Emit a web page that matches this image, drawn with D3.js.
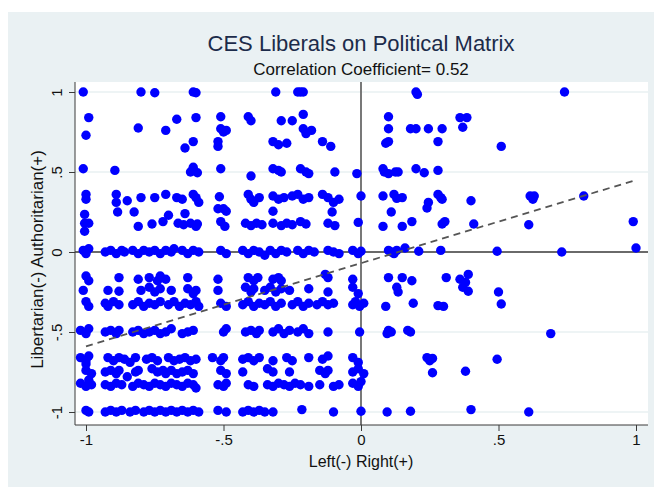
<!DOCTYPE html>
<html>
<head>
<meta charset="utf-8">
<script src="https://cdn.jsdelivr.net/npm/d3@7/dist/d3.min.js"></script>
<style>
  html, body { margin: 0; padding: 0; background: #ffffff; }
  svg { display: block; }
  text { font-family: "Liberation Sans", Arial, Helvetica, sans-serif; }
</style>
</head>
<body>
<svg id="chart" width="654" height="487"></svg>
<script>
// ---------------- DATA ----------------
const titleText = "CES Liberals on Political Matrix";
const subtitleText = "Correlation Coefficient= 0.52";
const xTitle = "Left(-) Right(+)";
const yTitle = "Libertarian(-) Authoritarian(+)";
const xTicks = [-1, -0.5, 0, 0.5, 1];
const yTicks = [-1, -0.5, 0, 0.5, 1];
const gridY = [-1, -0.5, 0.5, 1];
const fitX = [-1, 1];
const fitY = [-0.59, 0.45];

const rowP100 = [[-1.01,1.0],[-0.80,1.0],[-0.75,0.995],[-0.61,1.0],[-0.60,0.995],[-0.31,1.0],[-0.23,1.0],[-0.22,1.0],[-0.21,1.0],[0.20,1.0],[0.205,0.985],[0.74,1.0]];
const rowP75 = [[-0.99,0.84],[-1.0,0.73],[-0.81,0.775],[-0.71,0.76],[-0.67,0.83],[-0.60,0.84],[-0.61,0.69],[-0.64,0.65],
  [-0.51,0.845],[-0.41,0.845],[-0.40,0.82],[-0.29,0.82],[-0.25,0.82],[-0.21,0.86],
  [-0.51,0.77],[-0.50,0.75],[-0.49,0.76],[-0.21,0.77],[-0.20,0.74],[-0.18,0.76],
  [-0.52,0.69],[-0.52,0.66],[-0.32,0.69],[-0.30,0.67],[-0.27,0.68],[-0.14,0.69],[-0.11,0.66],
  [0.10,0.845],[0.36,0.84],[0.385,0.84],[0.10,0.77],[0.18,0.77],[0.20,0.77],[0.245,0.77],[0.295,0.77],[0.37,0.78],
  [0.09,0.68],[0.10,0.69],[0.28,0.69],[0.51,0.66]];
const rowP50 = [[-1.01,0.52],[-0.895,0.51],[-0.61,0.53],[-0.62,0.50],[-0.595,0.495],[-0.51,0.52],[-0.40,0.475],
  [-0.32,0.52],[-0.30,0.51],[-0.29,0.50],[-0.22,0.52],[-0.20,0.50],[-0.19,0.49],[-0.095,0.50],[-0.015,0.49],
  [0.08,0.52],[0.085,0.50],[0.10,0.49],[0.125,0.50],[0.135,0.50],[0.20,0.52],[0.23,0.495],[0.28,0.51]];
const rowP33 = [[-1.0,0.36],[-1.0,0.33],[-0.89,0.36],[-0.89,0.31],[-0.85,0.32],[-0.80,0.34],[-0.75,0.34],[-0.71,0.36],
  [-0.67,0.34],[-0.65,0.33],[-0.61,0.36],[-0.60,0.34],[-0.59,0.31],[-0.515,0.345],
  [-0.41,0.36],[-0.40,0.33],[-0.39,0.31],[-0.37,0.34],[-0.32,0.35],[-0.30,0.33],[-0.28,0.34],[-0.25,0.35],[-0.23,0.36],
  [-0.21,0.33],[-0.19,0.34],[-0.14,0.36],[-0.12,0.34],[-0.10,0.31],[-0.08,0.33],
  [0.0,0.35],[0.08,0.35],[0.12,0.36],[0.13,0.335],[0.15,0.34],[0.28,0.36],[0.29,0.34],[0.295,0.33],[0.40,0.32],
  [0.615,0.35],[0.625,0.33],[0.63,0.35],[0.81,0.35]];
const rowP25 = [[-0.885,0.25],[-0.825,0.25],[-0.70,0.23],[-0.64,0.24],[-0.52,0.27],[-0.50,0.27],[-0.49,0.255],
  [-0.32,0.255],[-0.105,0.25],[0.245,0.31],[0.24,0.275],[0.11,0.25]];
const rowP17 = [[-1.005,0.235],[-1.005,0.18],[-1.005,0.13],[-0.99,0.18],[-0.81,0.16],[-0.76,0.175],[-0.72,0.19],
  [-0.665,0.18],[-0.645,0.17],[-0.62,0.18],[-0.60,0.16],[-0.595,0.175],
  [-0.51,0.19],[-0.495,0.16],[-0.42,0.18],[-0.40,0.165],[-0.38,0.18],[-0.36,0.17],[-0.32,0.18],[-0.29,0.165],
  [-0.27,0.18],[-0.25,0.17],[-0.22,0.19],[-0.20,0.175],[-0.12,0.18],[-0.095,0.165],[-0.01,0.185],
  [0.08,0.16],[0.15,0.16],[0.185,0.19],[0.295,0.175],[0.305,0.19],[0.41,0.175],[0.61,0.17],[0.99,0.19]];
const rowZero = [[-1.01,0.01],[-1.0,-0.01],[-0.99,0.02],[-0.93,0.0],[-0.91,0.01],[-0.89,-0.01],[-0.87,0.01],[-0.86,0.0],
  [-0.83,0.01],[-0.81,-0.01],[-0.79,0.01],[-0.77,0.0],[-0.75,0.01],[-0.73,-0.01],[-0.71,0.01],[-0.69,0.0],[-0.68,0.02],
  [-0.65,0.01],[-0.63,-0.01],[-0.61,0.01],[-0.59,0.0],
  [-0.51,0.01],[-0.49,-0.01],[-0.43,0.01],[-0.41,-0.01],[-0.39,0.01],[-0.37,0.0],[-0.35,-0.02],[-0.33,0.01],
  [-0.31,-0.01],[-0.29,0.01],[-0.27,0.0],[-0.23,0.01],[-0.21,-0.01],[-0.19,0.01],[-0.17,0.0],[-0.12,0.01],
  [-0.10,0.0],[-0.08,-0.01],[-0.03,0.01],[-0.01,-0.01],[0.0,0.005],
  [0.10,0.01],[0.11,0.0],[0.13,0.01],[0.16,0.025],[0.12,-0.01],[0.21,0.005],[0.29,0.01],[0.495,0.005],[0.73,0.0],[1.0,0.025]];
const rowM17 = [[-1.0,-0.15],[-0.99,-0.18],[-0.88,-0.16],[-0.81,-0.17],[-0.77,-0.16],[-0.74,-0.18],[-0.73,-0.15],
  [-0.71,-0.17],[-0.63,-0.16],
  [-0.52,-0.17],[-0.41,-0.16],[-0.39,-0.18],[-0.375,-0.16],[-0.32,-0.17],[-0.30,-0.16],[-0.29,-0.18],[-0.13,-0.14],
  [-0.12,-0.16],[-0.03,-0.17],
  [0.10,-0.16],[0.15,-0.16],[0.185,-0.18],[0.31,-0.16],[0.36,-0.17],[0.38,-0.19],[0.39,-0.14]];
const rowM25 = [[-1.01,-0.24],[-0.92,-0.24],[-0.88,-0.245],[-0.80,-0.24],[-0.77,-0.22],[-0.75,-0.25],[-0.73,-0.23],
  [-0.69,-0.24],[-0.63,-0.23],[-0.61,-0.26],[-0.60,-0.24],
  [-0.52,-0.24],[-0.42,-0.22],[-0.40,-0.25],[-0.39,-0.23],[-0.35,-0.24],[-0.33,-0.22],[-0.31,-0.25],[-0.29,-0.23],
  [-0.26,-0.24],[-0.19,-0.23],[-0.12,-0.25],[-0.03,-0.22],[-0.01,-0.26],
  [0.13,-0.22],[0.135,-0.25],[0.37,-0.22],[0.39,-0.245],[0.50,-0.25]];
const rowM33 = [[-1.0,-0.31],[-0.99,-0.34],[-0.93,-0.32],[-0.92,-0.34],[-0.90,-0.31],[-0.88,-0.33],[-0.83,-0.33],
  [-0.81,-0.31],[-0.79,-0.34],[-0.77,-0.32],[-0.75,-0.33],[-0.73,-0.31],[-0.70,-0.33],[-0.68,-0.31],[-0.66,-0.34],
  [-0.64,-0.32],[-0.62,-0.33],[-0.60,-0.31],[-0.59,-0.34],
  [-0.51,-0.32],[-0.49,-0.34],[-0.43,-0.33],[-0.41,-0.31],[-0.39,-0.34],[-0.37,-0.32],[-0.35,-0.33],[-0.33,-0.31],
  [-0.31,-0.34],[-0.29,-0.32],[-0.25,-0.33],[-0.23,-0.31],[-0.21,-0.34],[-0.19,-0.32],[-0.16,-0.33],[-0.14,-0.31],
  [-0.12,-0.33],[-0.10,-0.32],[-0.03,-0.33],[-0.02,-0.31],[-0.005,-0.34],[0.01,-0.32],
  [0.09,-0.34],[0.19,-0.32],[0.28,-0.335],[0.30,-0.34],[0.51,-0.325]];
const rowM50 = [[-1.02,-0.49],[-1.0,-0.51],[-0.99,-0.48],[-0.93,-0.50],[-0.91,-0.49],[-0.89,-0.51],[-0.88,-0.49],
  [-0.83,-0.50],[-0.81,-0.49],[-0.79,-0.51],[-0.77,-0.50],[-0.75,-0.49],[-0.73,-0.51],[-0.71,-0.50],[-0.69,-0.48],
  [-0.65,-0.51],[-0.63,-0.50],[-0.61,-0.49],
  [-0.50,-0.50],[-0.49,-0.48],[-0.42,-0.50],[-0.40,-0.49],[-0.38,-0.51],[-0.37,-0.49],[-0.32,-0.50],[-0.30,-0.48],
  [-0.28,-0.51],[-0.26,-0.49],[-0.23,-0.50],[-0.21,-0.48],[-0.19,-0.51],[-0.12,-0.50],[-0.005,-0.50],
  [0.095,-0.51],[0.10,-0.49],[0.11,-0.50],[0.17,-0.49],[0.18,-0.50],[0.69,-0.51]];
const rowM67 = [[-1.02,-0.66],[-1.0,-0.68],[-0.99,-0.65],[-1.0,-0.70],[-0.92,-0.66],[-0.90,-0.68],[-0.88,-0.66],
  [-0.86,-0.67],[-0.84,-0.69],[-0.82,-0.66],[-0.78,-0.67],[-0.76,-0.66],[-0.74,-0.68],[-0.70,-0.66],[-0.68,-0.68],
  [-0.66,-0.67],[-0.64,-0.66],[-0.62,-0.68],[-0.60,-0.67],[-0.54,-0.66],
  [-0.51,-0.68],[-0.50,-0.66],[-0.43,-0.67],[-0.41,-0.66],[-0.39,-0.68],[-0.37,-0.66],[-0.32,-0.68],[-0.27,-0.66],
  [-0.25,-0.68],[-0.19,-0.66],[-0.14,-0.67],[-0.12,-0.65],[-0.03,-0.66],[-0.01,-0.69],
  [0.24,-0.66],[0.25,-0.68],[0.26,-0.665],[0.495,-0.67]];
const rowM75 = [[-1.0,-0.74],[-0.98,-0.76],[-0.93,-0.75],[-0.91,-0.74],[-0.89,-0.76],[-0.88,-0.74],[-0.85,-0.78],
  [-0.82,-0.75],[-0.81,-0.74],[-0.76,-0.73],[-0.74,-0.75],[-0.72,-0.74],[-0.71,-0.76],[-0.69,-0.74],[-0.67,-0.76],
  [-0.65,-0.75],[-0.63,-0.74],[-0.61,-0.76],
  [-0.51,-0.74],[-0.49,-0.76],[-0.43,-0.75],[-0.34,-0.73],[-0.32,-0.75],[-0.26,-0.75],[-0.15,-0.74],[-0.13,-0.76],
  [-0.12,-0.74],[-0.03,-0.75],[-0.01,-0.73],[0.01,-0.76],
  [0.26,-0.755],[0.38,-0.745]];
const rowM83 = [[-1.02,-0.82],[-1.0,-0.84],[-0.98,-0.83],[-0.99,-0.80],[-0.93,-0.83],[-0.91,-0.84],[-0.89,-0.82],
  [-0.87,-0.83],[-0.83,-0.84],[-0.81,-0.82],[-0.79,-0.83],[-0.77,-0.84],[-0.75,-0.82],[-0.73,-0.83],[-0.71,-0.84],
  [-0.69,-0.82],[-0.67,-0.83],[-0.65,-0.84],[-0.63,-0.82],[-0.61,-0.83],[-0.60,-0.85],
  [-0.52,-0.83],[-0.50,-0.84],[-0.49,-0.82],[-0.41,-0.83],[-0.39,-0.84],[-0.34,-0.83],[-0.32,-0.84],[-0.30,-0.82],
  [-0.28,-0.83],[-0.26,-0.84],[-0.24,-0.82],[-0.22,-0.83],[-0.19,-0.84],[-0.15,-0.83],[-0.10,-0.84],[-0.08,-0.83],
  [-0.03,-0.82],[-0.01,-0.84],[0.0,-0.81]];
const rowM100 = [[-1.0,-0.99],[-0.99,-1.0],[-0.93,-1.0],[-0.91,-0.99],[-0.89,-1.0],[-0.87,-0.99],[-0.84,-1.0],
  [-0.82,-0.99],[-0.79,-1.0],[-0.77,-0.99],[-0.75,-1.0],[-0.73,-0.99],[-0.71,-1.0],[-0.69,-0.99],[-0.67,-1.0],
  [-0.65,-0.99],[-0.63,-1.0],[-0.61,-0.99],[-0.59,-1.0],[-0.52,-0.99],[-0.49,-1.0],[-0.43,-1.0],[-0.41,-0.99],
  [-0.39,-1.0],[-0.37,-0.99],[-0.35,-1.0],[-0.32,-1.0],[-0.215,-0.985],[-0.10,-1.0],[0.0,-0.995],[0.095,-1.0],
  [0.18,-0.995],[0.40,-0.985],[0.61,-1.0]];

const points = [].concat(rowP100, rowP75, rowP50, rowP33, rowP25, rowP17, rowZero,
                         rowM17, rowM25, rowM33, rowM50, rowM67, rowM75, rowM83, rowM100);

// ---------------- LAYOUT ----------------
const svg = d3.select("#chart");
const W = 654, H = 487;
const plot = { left: 75, right: 648, top: 82, bottom: 425 };

const x = d3.scaleLinear().domain([-1, 1]).range([86, 636]);
const y = d3.scaleLinear().domain([-1, 1]).range([412, 92]);
const fmt = d => String(d).replace(/^(-?)0\./, "$1.");

// background
svg.append("rect").attr("x", 8).attr("y", 12).attr("width", W - 8).attr("height", H - 12)
  .attr("fill", "#eaf1f3");
svg.append("rect").attr("x", plot.left).attr("y", plot.top)
  .attr("width", plot.right - plot.left).attr("height", plot.bottom - plot.top)
  .attr("fill", "#ffffff");

// gridlines
svg.append("g").selectAll("line").data(gridY).join("line")
  .attr("x1", plot.left).attr("x2", plot.right)
  .attr("y1", d => y(d)).attr("y2", d => y(d))
  .attr("stroke", "#e8f0f2").attr("stroke-width", 1.6);

// reference lines at 0
svg.append("line").attr("x1", x(0)).attr("x2", x(0)).attr("y1", plot.top).attr("y2", plot.bottom)
  .attr("stroke", "#6a6a6a").attr("stroke-width", 1.8);
svg.append("line").attr("x1", plot.left).attr("x2", plot.right).attr("y1", y(0)).attr("y2", y(0))
  .attr("stroke", "#6a6a6a").attr("stroke-width", 1.8);

// points
svg.append("g").selectAll("circle").data(points).join("circle")
  .attr("cx", d => x(d[0])).attr("cy", d => y(d[1])).attr("r", 4.7)
  .attr("fill", "#0000ff");

// fit line
svg.append("path")
  .datum(fitX.map((v, i) => [v, fitY[i]]))
  .attr("d", d3.line().x(d => x(d[0])).y(d => y(d[1])))
  .attr("fill", "none").attr("stroke", "#555555").attr("stroke-width", 1.8)
  .attr("stroke-dasharray", "7,5");

// x axis
const gx = svg.append("g").attr("transform", `translate(0,${plot.bottom})`)
  .call(d3.axisBottom(x).tickValues(xTicks).tickFormat(fmt).tickSize(6).tickSizeOuter(0).tickPadding(3));
gx.select(".domain").attr("d", `M${plot.left},0H${plot.right}`).attr("stroke", "#3a3a3a");
gx.selectAll(".tick line").attr("stroke", "#3a3a3a");
gx.selectAll("text").attr("font-size", 15).attr("fill", "#111")
  .attr("font-family", "Liberation Sans, Arial, sans-serif");

// y axis
const gy = svg.append("g").attr("transform", `translate(${plot.left},0)`)
  .call(d3.axisLeft(y).tickValues(yTicks).tickFormat(fmt).tickSize(6).tickSizeOuter(0));
gy.select(".domain").attr("d", `M0,${plot.top}V${plot.bottom}`).attr("stroke", "#3a3a3a");
gy.selectAll(".tick line").attr("stroke", "#3a3a3a");
gy.selectAll("text").attr("x", null).attr("dy", null)
  .attr("transform", "translate(-13,0) rotate(-90)")
  .attr("text-anchor", "middle")
  .attr("font-size", 15).attr("fill", "#111")
  .attr("font-family", "Liberation Sans, Arial, sans-serif");

// titles
svg.append("text").attr("x", 361).attr("y", 51).attr("text-anchor", "middle")
  .attr("font-size", 22).attr("fill", "#1c2b4a").text(titleText);
svg.append("text").attr("x", 361).attr("y", 75).attr("text-anchor", "middle")
  .attr("font-size", 17).attr("fill", "#111").text(subtitleText);
svg.append("text").attr("x", 361).attr("y", 467).attr("text-anchor", "middle")
  .attr("font-size", 16).attr("fill", "#111").text(xTitle);
svg.append("text").attr("transform", `translate(43,${(plot.top + plot.bottom) / 2 + 6}) rotate(-90)`)
  .attr("text-anchor", "middle").attr("font-size", 17).attr("fill", "#111").text(yTitle);
</script>
</body>
</html>
